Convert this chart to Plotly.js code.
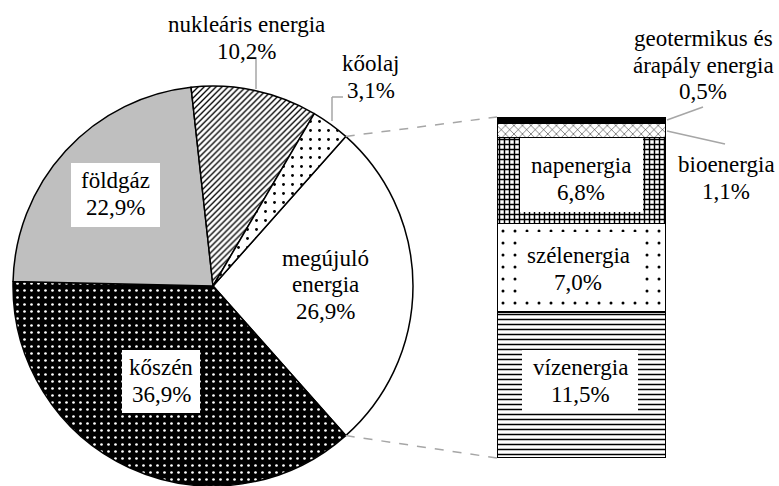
<!DOCTYPE html>
<html><head><meta charset="utf-8">
<script src="https://cdn.plot.ly/plotly-3.0.1.min.js"></script>
<style>html,body{margin:0;padding:0;background:#fff}</style>
</head><body><div id="chart" style="width:779px;height:486px"></div>
<script>
// ---- data ----
const pieLabels = ['megújuló energia', 'kőszén', 'földgáz', 'nukleáris energia', 'kőolaj'];
const pieLabelLines = [['megújuló', 'energia'], ['kőszén'], ['földgáz'], ['nukleáris energia'], ['kőolaj']];
const pieValues = [26.9, 36.9, 22.9, 10.2, 3.1];
const barLabels = ['vízenergia', 'szélenergia', 'napenergia', 'bioenergia', 'geotermikus és árapály energia'];
const barLabelLines = [['vízenergia'], ['szélenergia'], ['napenergia'], ['bioenergia'], ['geotermikus és', 'árapály energia']];
const barValues = [11.5, 7.0, 6.8, 1.1, 0.5];

const fmt = v => v.toFixed(1).replace('.', ',') + '%';
const W = 779, H = 486;
const FONT = 'Liberation Serif';
const FS = 23;
const LINE = 26.5;

// pie geometry (layout)
const pcx = 213, pcy = 286, pr = 200;
const pieTotal = pieValues.reduce((a, b) => a + b, 0);
const firstSpan = pieValues[0] / pieTotal * 360;
const rotation = 90 - firstSpan / 2;

// bar geometry (layout)
const bx0 = 497, bx1 = 666, byTop = 117, byBot = 458;
const barTotal = barValues.reduce((a, b) => a + b, 0);

const toPX = x => x / W;
const toPY = y => (H - y) / H;

const pieTrace = {
  type: 'pie',
  labels: pieLabels,
  values: pieValues,
  sort: false,
  direction: 'clockwise',
  rotation: rotation,
  textinfo: 'none',
  hoverinfo: 'label+percent',
  showlegend: false,
  domain: {x: [toPX(pcx - pr), toPX(pcx + pr)], y: [toPY(pcy + pr), toPY(pcy - pr)]},
  marker: {
    colors: ['#ffffff', '#000000', '#bfbfbf', '#ffffff', '#ffffff'],
    line: {color: '#000000', width: 1.5},
    pattern: {
      shape: ['', '.', '', '/', '.'],
      fgcolor: ['#000000', '#ffffff', '#000000', '#000000', '#000000'],
      bgcolor: ['#ffffff', '#000000', '#bfbfbf', '#ffffff', '#ffffff'],
      size: [8, 7, 8, 4.2, 9],
      solidity: [0.2, 0.12, 0.2, 0.32, 0.08]
    }
  }
};

const barStyles = [
  {shape: '-', fg: '#000000', bg: '#ffffff', size: 5, solidity: 0.3},
  {shape: '.', fg: '#000000', bg: '#ffffff', size: 12, solidity: 0.05},
  {shape: '+', fg: '#000000', bg: '#ffffff', size: 5, solidity: 0.5},
  {shape: 'x', fg: '#000000', bg: '#ffffff', size: 6, solidity: 0.15},
  {shape: '', fg: '#000000', bg: '#000000', size: 6, solidity: 0.2}
];

const barTraces = barValues.map((v, i) => ({
  type: 'bar',
  x: [0],
  y: [v],
  name: barLabels[i],
  width: 1,
  xaxis: 'x', yaxis: 'y',
  showlegend: false,
  marker: {
    color: barStyles[i].bg,
    line: {color: '#000000', width: 1.5},
    pattern: {
      shape: barStyles[i].shape,
      fgcolor: barStyles[i].fg,
      bgcolor: barStyles[i].bg,
      size: barStyles[i].size,
      solidity: barStyles[i].solidity
    }
  }
}));

// connector points computed from the pie data
function piePoint(angleDeg) {
  const a = angleDeg * Math.PI / 180;
  return [pcx + pr * Math.sin(a), pcy - pr * Math.cos(a)];
}
const pA = piePoint(rotation);
const pB = piePoint(rotation + firstSpan);

const grey = '#a6a6a6';
const seg = (x0, y0, x1, y1, dash) => ({type: 'line', xref: 'paper', yref: 'paper',
  x0: toPX(x0), y0: toPY(y0), x1: toPX(x1), y1: toPY(y1), line: {color: grey, width: 1.5, dash: dash || 'solid'}});
const shapes = [
  seg(pA[0], pA[1], bx0, byTop, 'dash'),
  seg(pB[0], pB[1], bx0, byBot, 'dash'),
  seg(256, 57, 256, 89),
  seg(332, 121, 332, 97),
  seg(332, 97, 343, 97),
  seg(667, 120, 703, 107),
  seg(667, 131, 725, 144)
];

// label placement (layout): centre of text block and optional white box [cx, cy, w, h]
const labelPlaces = [
  // pie
  {lines: pieLabelLines[0], v: pieValues[0], cx: 325, cy: 285},
  {lines: pieLabelLines[1], v: pieValues[1], cx: 161, cy: 381, box: [161, 381.5, 78, 63]},
  {lines: pieLabelLines[2], v: pieValues[2], cx: 115.5, cy: 194, box: [115.5, 195, 89, 64]},
  {lines: pieLabelLines[3], v: pieValues[3], cx: 246, cy: 38},
  {lines: pieLabelLines[4], v: pieValues[4], cx: 371, cy: 77},
  // bar
  {lines: barLabelLines[0], v: barValues[0], cx: 580, cy: 381, box: [580, 381.5, 116, 63]},
  {lines: barLabelLines[1], v: barValues[1], cx: 578, cy: 269, box: [579, 264.5, 122, 65]},
  {lines: barLabelLines[2], v: barValues[2], cx: 581, cy: 179, box: [581.5, 175, 123, 74]},
  {lines: barLabelLines[3], v: barValues[3], cx: 726, cy: 178},
  {lines: barLabelLines[4], v: barValues[4], cx: 703, cy: 65}
];

const annotations = [];
labelPlaces.forEach(p => {
  if (p.box) {
    const [bcx, bcy, bw, bh] = p.box;
    shapes.push({type: 'rect', xref: 'paper', yref: 'paper', layer: 'above',
      x0: toPX(bcx - bw / 2), x1: toPX(bcx + bw / 2), y0: toPY(bcy + bh / 2), y1: toPY(bcy - bh / 2),
      fillcolor: '#ffffff', line: {width: 0}});
  }
  const all = p.lines.concat([fmt(p.v)]);
  const n = all.length;
  all.forEach((t, i) => {
    annotations.push({
      text: t, x: toPX(p.cx), y: toPY(p.cy + (i - (n - 1) / 2) * LINE),
      xref: 'paper', yref: 'paper', xanchor: 'center', yanchor: 'middle', showarrow: false,
      font: {family: FONT, size: FS, color: '#000000'}
    });
  });
});

const layout = {
  width: W, height: H,
  margin: {l: 0, r: 0, t: 0, b: 0},
  paper_bgcolor: '#ffffff', plot_bgcolor: 'rgba(0,0,0,0)',
  showlegend: false,
  barmode: 'stack',
  font: {family: FONT, size: FS, color: '#000000'},
  xaxis: {domain: [toPX(bx0), toPX(bx1)], range: [-0.5, 0.5], visible: false},
  yaxis: {domain: [toPY(byBot), toPY(byTop)], range: [0, barTotal], visible: false},
  shapes: shapes,
  annotations: annotations
};

Plotly.newPlot('chart', [pieTrace].concat(barTraces), layout, {displayModeBar: false});
</script>
</body></html>
